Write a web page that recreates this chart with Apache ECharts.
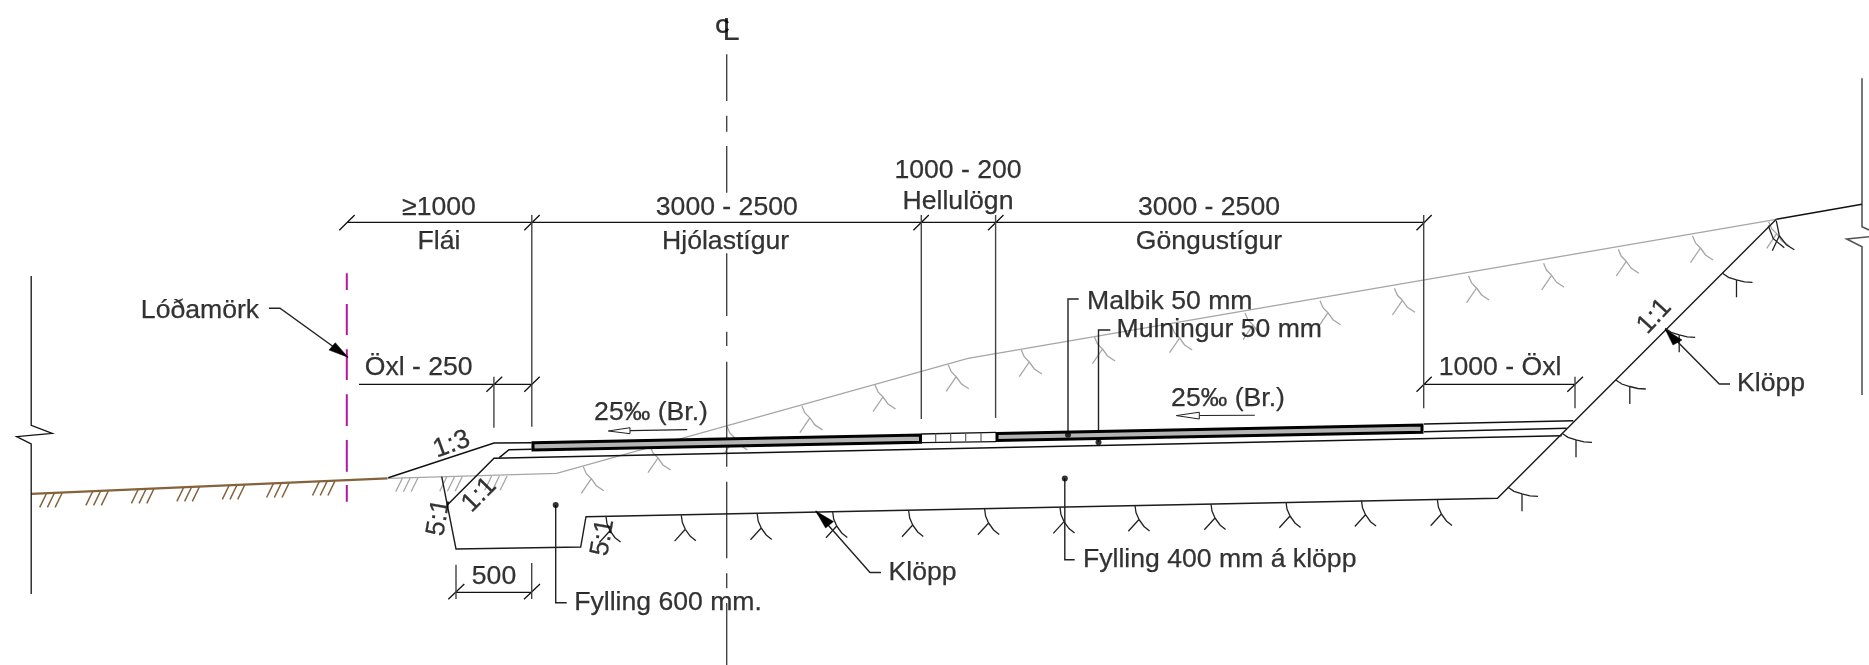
<!DOCTYPE html>
<html>
<head>
<meta charset="utf-8">
<style>html,body{margin:0;padding:0;background:#fff}#c{width:1869px;height:665px}</style>
<script src="https://cdn.jsdelivr.net/npm/echarts@6/dist/echarts.min.js"></script>
</head>
<body>
<div id="c"></div>
<script>
// Drawing coordinates (x, y in drawing units)
const groundLine = [[31.2,493.8],[387.5,478.3]];
const existingSurface = [[387.5,478.3],[556.7,473.3],[968,358.3],[1776.3,219.3]];
const farRightSurface = [[1776.3,219.3],[1862,204.3]];
const leftBreakLine = [[31.2,276],[31.2,425.3],[52.2,433.3],[16.6,436.7],[31.2,444],[31.2,594]];
const rightBreakLine = [[1862,78.3],[1862,226.7],[1869,230],null,[1869,236.7],[1846.7,239],[1862,246.7],[1862,395]];
const propertyLineDashes = [[346.8,273.3],[346.8,290],null,[346.8,304],[346.8,335],null,[346.8,349.3],[346.8,380],null,[346.8,394.3],[346.8,426],null,[346.8,440],[346.8,471.7],null,[346.8,485],[346.8,501.7]];
const centreLineDashes = [[726.7,54.3],[726.7,101],null,[726.7,115.7],[726.7,131.7],null,[726.7,146],[726.7,192.7],null,[726.7,253.3],[726.7,316],null,[726.7,331.7],[726.7,346],null,[726.7,361.7],[726.7,466.7],null,[726.7,481.7],[726.7,558.3],null,[726.7,573.3],[726.7,588.3],null,[726.7,603],[726.7,665]];
const slopeAndShoulder = [[388.3,477.7],[494,443],[531.7,442.7]];
const asphaltUnderLeft = [[499.3,457.7],[509,449.7],[531.7,449.3]];
const subbaseLine = [[447.3,505],[494,458.3],[1561.7,435.7]];
const shoulderTop = [[1424,424],[1573.3,420.7]];
const shoulderBottom = [[1424,431.7],[1566.7,428.3]];
const excavation = [[441.7,476.7],[456,549],[580.7,547],[586,516.7],[1497.5,498.3],[1776.3,219.3]];
const dimensionLines = [
  [[347,222.3],[1423.7,222.3]], [[339.3,230.3],[354.7,215]], [[524.3,230.3],[539.7,215]],
  [[913.4,230.3],[928.8,215]], [[988,230.3],[1003.5,215]], [[1416.5,230.3],[1431.7,215]],
  [[359,384.3],[531.8,384.3]], [[486.4,391.7],[502.2,376.7]], [[524.3,391.7],[539.7,376.7]],
  [[1423.7,384.3],[1575,384.3]], [[1416.5,391.7],[1431.7,376.7]], [[1567.3,391.7],[1583,376.7]],
  [[456,592.3],[531.7,592.3]], [[448.3,599.3],[464.3,584]], [[524,599.3],[540,584]]
];
const extensionLines = [
  [[531.8,215],[531.8,426.7]], [[921.3,215],[921.3,419]], [[995.6,215],[995.6,418]], [[1423.7,215],[1423.7,408.3]],
  [[493.9,376.7],[493.9,427.7]], [[1575,376.7],[1575,408.3]],
  [[456,564.7],[456,599]], [[531.7,563],[531.7,599]]
];
const leaderLines = [
  [[268.9,308.3],[280,308.3],[348,357.3]],
  [[881,572.5],[870,572.5],[815.7,511]],
  [[1730,384],[1719.3,384],[1665.2,329.3]],
  [[1078.7,299],[1068,299],[1068,434.7]],
  [[1110.3,330],[1098.5,330],[1098.5,442.3]],
  [[1074.7,559.8],[1064.8,559.8],[1064.8,478.4]],
  [[566.7,602.7],[555.7,602.7],[555.7,505]]
];
const slopeArrowShafts = [[[630,430.6],[687.2,429.6]], [[1199.3,415.5],[1254.8,415.3]]];
const leaderDots = [[1068,434.7],[1098.5,442.3],[1064.8,478.4],[555.7,505]];
const paverDividers = [[935.7,433.4],[950.7,433.2],[965.7,433],[981,432.7]];
const paverEdges = [[[921.7,434],[996,432.4]], [[921.7,442.7],[996,441.6]]];
const brownHatchAnchors = [[46.7,493],[92.9,491],[138.4,489],[183.9,487],[229.3,485],[273.6,483.2],[319.5,481.2]];
const greyHatchAnchors = [[402.7,477.5],[446.7,477],[491.7,476]];
const greyRockAnchors = [[583.3,466.7],[650,446],[726.8,426],[801.9,405.9],[875,385],[948.2,364.7],[1021.3,350],[1094.5,337],[1171.6,326],[1245,313],[1320,300.7],[1394.4,288.3],[1468.6,276],[1543.6,263.3],[1618.3,249.3],[1692.5,236],[1768.7,221.7]];
const floorRockAnchors = [[606,516.7],[681.3,515.3],[757.2,514],[832.7,512],[908.7,511],[984.6,509],[1060,507.6],[1135,505.5],[1211,504],[1286,502],[1361.5,500.7],[1437.4,500]];
const slopeRockAnchors = [[1508,487.3],[1562,433.3],[1615.8,380],[1665.2,328.3],[1722.5,273.3]];
const crestRockAnchor = [[1776.3,220.7]];
const asphaltPlates = [
  [[533,442.8],[920.5,435.1],[920.5,442.2],[533,450]],
  [[997,433.6],[1422,425.1],[1422,432.2],[997,440.4]]
];
const solidArrowHeads = [
  [[348,357.3],[329,350],[335.3,342.7]],
  [[815.7,511],[825.6,528],[833.5,521.6]],
  [[1665.2,329.3],[1673,345],[1682,340]]
];
const openArrowHeads = [
  [[608.3,431],[630,427.7],[630,433.7]],
  [[1176.3,415.6],[1199.3,412.2],[1199.3,419]]
];
const labelTexts = ['≥1000','Flái','Lóðamörk','Öxl - 250','3000 - 2500','Hjólastígur','1000 - 200','Hellulögn','3000 - 2500','Göngustígur','Malbik 50 mm','Mulningur 50 mm','25‰ (Br.)','25‰ (Br.)','1000 - Öxl','Klöpp','Klöpp','Fylling 400 mm á klöpp','Fylling 600 mm.','500','1:3','1:1','5:1','5:1','1:1'];
const labelX = [439,439,200,418.7,726.8,725.6,958,958,1209,1209,1087,1116.5,651,1228,1500,888.5,1737,1083,574.2,494,451.7,479.3,439,603,1654.4];
const labelY = [207.5,241.5,310.5,367.5,208,242,170.3,201.5,207.5,242,301.3,329.3,412.5,398.5,367.5,572.5,383.5,559.5,602.5,576.5,444.5,495,517.5,537.5,316.5];
const labelRotate = [0,0,0,0,0,0,0,0,0,0,0,0,0,0,0,0,0,0,0,0,20,45,80,80,47];
const labelLeftAligned = [10,11,15,16,17,18];

// Small repeated symbols, relative to an anchor on the drawing
const hatchGlyph = [[[0,0],[-7,14.3]],[[7.7,0],[0.7,14.3]],[[15.4,0],[8.4,14.3]]];
const greyRockGlyph = [[[0,0],[3,7],[8,12]],[[8,12],[-2,26.7]],[[8,12],[13,19],[20.6,24]]];
const floorRockGlyph = [[[0,0],[1,7],[4,14]],[[4,14],[-6.7,25.8]],[[4,14],[9,21],[14.6,25.4]]];
const slopeRockGlyph = [[[0,0],[6,4],[14,6.5],[22,8.5],[30,9]],[[14,6.5],[14,24]]];
const crestRockGlyph = [[[0,0],[3,15],[10,24],[18,29]],[[3,15],[-4,30]],[[-8,5],[-3,18],[8,27]]];

function glyphs(anchors, glyph){
  const out = [];
  anchors.forEach(a => glyph.forEach(part => {
    part.forEach(p => out.push([a[0]+p[0], a[1]+p[1]]));
    out.push(null);
  }));
  return out;
}
function joined(lines){
  const out = [];
  lines.forEach(l => { l.forEach(p => out.push(p)); out.push(null); });
  return out;
}
function line(points, color, width, z){
  return {type:'line', data:points.map(p => p ? p : ['-','-']), showSymbol:false, symbol:'none', silent:true,
    connectNulls:false, animation:false, clip:false, z:z||2, lineStyle:{color:color, width:width, cap:'butt', join:'miter'}};
}
function polygons(list, fill, stroke, width, z){
  return {type:'custom', coordinateSystem:'cartesian2d', silent:true, animation:false, clip:false, z:z,
    data:list.map((_, i) => [i]),
    encode:{x:[], y:[]},
    renderItem:(params, api) => ({type:'polygon',
      shape:{points:list[api.value(0)].map(p => api.coord(p))},
      style:{fill:fill, stroke:stroke, lineWidth:width, lineJoin:'miter'}})
  };
}
const paverLines = paverDividers.map(p => [p, [p[0], p[1]+8.6]]);
const black = '#111111', dim = '#444444', grey = '#a6a6a6', brown = '#84623c', magenta = '#b5179e';
const FONT = '"Liberation Sans", Arial, sans-serif';

const labelData = labelTexts.map((t, i) => ({
  value:[labelX[i], labelY[i]],
  label:{formatter:() => t, rotate:labelRotate[i], align:labelLeftAligned.includes(i) ? 'left' : 'center'}
}));

const chart = echarts.init(document.getElementById('c'), null, {renderer:'canvas'});
chart.setOption({
  animation:false, backgroundColor:'#ffffff',
  grid:{left:0, right:0, top:0, bottom:0, containLabel:false},
  xAxis:{type:'value', min:0, max:1869, show:false},
  yAxis:{type:'value', min:0, max:665, inverse:true, show:false},
  tooltip:{show:false}, legend:{show:false},
  series:[
    line(existingSurface, grey, 1.3, 1),
    line(glyphs(greyRockAnchors, greyRockGlyph), grey, 1.3, 1),
    line(glyphs(greyHatchAnchors, hatchGlyph), grey, 1.3, 1),
    line(groundLine, brown, 2.2, 2),
    line(glyphs(brownHatchAnchors, hatchGlyph), brown, 1.5, 2),
    line(propertyLineDashes, magenta, 2, 2),
    line(centreLineDashes, dim, 1.4, 2),
    line(leftBreakLine, black, 1.3, 2),
    line(rightBreakLine, '#555555', 1.6, 2),
    line(farRightSurface, black, 1.4, 2),
    line(slopeAndShoulder, black, 1.5, 2),
    line(asphaltUnderLeft, black, 1.5, 2),
    line(subbaseLine, black, 1.4, 2),
    line(shoulderTop, black, 1.4, 2),
    line(shoulderBottom, black, 1.4, 2),
    line(excavation, '#1c1c1c', 1.4, 2),
    line(glyphs(floorRockAnchors, floorRockGlyph), '#222222', 1.3, 2),
    line(glyphs(slopeRockAnchors, slopeRockGlyph), '#222222', 1.3, 2),
    line(glyphs(crestRockAnchor, crestRockGlyph), '#222222', 1.3, 2),
    line(joined(dimensionLines), '#111111', 1.3, 3),
    line(joined(extensionLines), dim, 1.4, 3),
    line(joined(leaderLines), '#222222', 1.4, 3),
    line(joined(slopeArrowShafts), '#222222', 1.1, 3),
    line(joined(paverEdges), black, 1.3, 3),
    line(joined(paverLines), '#555555', 1.1, 3),
    polygons(asphaltPlates, '#b4b4b4', '#000000', 3, 5),
    polygons(solidArrowHeads, '#000000', '#000000', 0.5, 6),
    polygons(openArrowHeads, '#ffffff', '#222222', 1, 6),
    {type:'scatter', data:leaderDots, symbolSize:6, silent:true, itemStyle:{color:'#000'}, z:7, animation:false},
    {type:'scatter', data:labelData, symbolSize:1, silent:true, itemStyle:{color:'rgba(0,0,0,0)'}, z:10, animation:false, clip:false,
      label:{show:true, position:'inside', color:'#000000', fontFamily:FONT, fontSize:26.6, verticalAlign:'middle', textBorderColor:'#000000', textBorderWidth:0.25}},
    {type:'scatter', data:[[722.5,27.5]], symbolSize:1, silent:true, itemStyle:{color:'rgba(0,0,0,0)'}, z:10, animation:false,
      label:{show:true, position:'inside', formatter:'C', color:'#000', fontFamily:FONT, fontWeight:'bold', fontSize:20, verticalAlign:'middle'}},
    {type:'scatter', data:[[731,31.5]], symbolSize:1, silent:true, itemStyle:{color:'rgba(0,0,0,0)'}, z:10, animation:false,
      label:{show:true, position:'inside', formatter:'L', color:'#000', fontFamily:FONT, fontSize:31, verticalAlign:'middle'}}
  ]
});
</script>
</body>
</html>
